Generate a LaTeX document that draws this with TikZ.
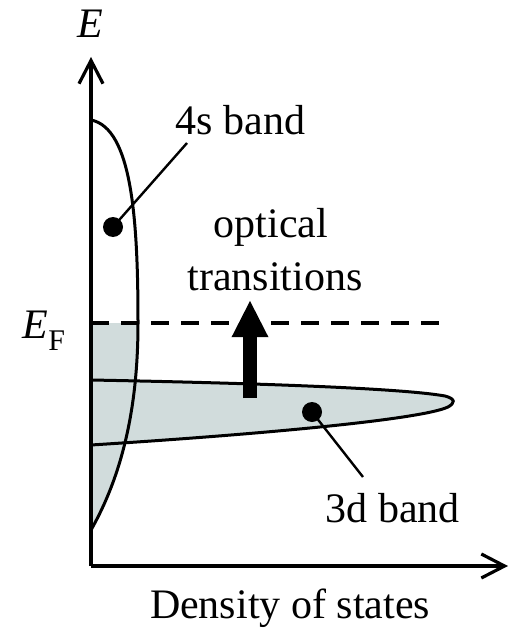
\documentclass[tikz,border=0pt]{standalone}
\usepackage{fontspec}
\setmainfont{Liberation Serif}
\usetikzlibrary{arrows.meta}

\definecolor{bandgray}{RGB}{209,220,220}

\begin{document}
\begin{tikzpicture}[
        x = 0.25pt, y = -0.25pt,
        font = \fontsize{10.5}{13}\selectfont,
        axis/.style = {line width = 0.8pt, -{Straight Barb[length = 5.8pt, width = 6pt]}},
        band/.style = {line width = 0.75pt},
        leader/.style = {line width = 0.6pt},
        dot/.style = {circle, fill, inner sep = 0pt, minimum size = 5pt},
        label/.style = {inner sep = 0pt}
    ]
    \useasboundingbox (0,0) rectangle (510,641);

    % axes end points
    \coordinate (origin) at (91,566);
    \coordinate (etop) at (91,57);
    \coordinate (dosend) at (508,566);

    % occupied states
    \fill[bandgray] (91,323) -- (138,323)
        .. controls (138,400) and (125,470) .. (91,530) -- cycle;
    \fill[bandgray] (91,380) .. controls (250,383) and (400,388) .. (445,396)
        .. controls (456,399) and (455,403) .. (448,407)
        .. controls (420,420) and (250,435) .. (91,445) -- cycle;

    % 4s band
    \draw[band] (91,120) .. controls (132,128) and (138,220) .. (138,323)
        .. controls (138,400) and (125,470) .. (91,530);
    % 3d band
    \draw[band] (91,380) .. controls (250,383) and (400,388) .. (445,396)
        .. controls (456,399) and (455,403) .. (448,407)
        .. controls (420,420) and (250,435) .. (91,445);

    % Fermi level
    \coordinate (fleft) at (91,323);
    \coordinate (fright) at (445,323);
    \draw[line width = 1.2pt, dash pattern = on 4.5pt off 3pt] (fleft) -- (fright);

    % axes
    \draw[axis] (origin) -- (etop);
    \draw[axis] (origin) -- (dosend);

    % transition arrow
    \coordinate (arrfrom) at (250,398);
    \coordinate (arrto) at (250,300);
    \draw[line width = 3.3pt, -{Triangle[length = 9.3pt, width = 8.5pt]}] (arrfrom) -- (arrto);

    % labels
    \node[label, anchor = base] (elabel) at (90,38) {\textit{E}};
    \node[label, anchor = base west] (eflabel) at (22,338)
        {\textit{E}\raisebox{-3pt}{\fontsize{7.5}{8}\selectfont F}};
    \node[label, anchor = base west] (s4label) at (175,135) {4s band};
    \node[label, anchor = base] (optical) at (271,238) {optical};
    \node[label, anchor = base] (transitions) at (275,290) {transitions};
    \node[label, anchor = base west] (d3label) at (325,522) {3d band};
    \node[label, anchor = base] (doslabel) at (290,618) {Density of states};

    % markers and leaders
    \node[dot] (s4dot) at (113,227) {};
    \node[dot] (d3dot) at (312,412) {};
    \coordinate (s4end) at (187,143);
    \coordinate (d3end) at (363,477);
    \draw[leader] (s4dot.center) -- (s4end);
    \draw[leader] (d3dot.center) -- (d3end);
\end{tikzpicture}
\end{document}
